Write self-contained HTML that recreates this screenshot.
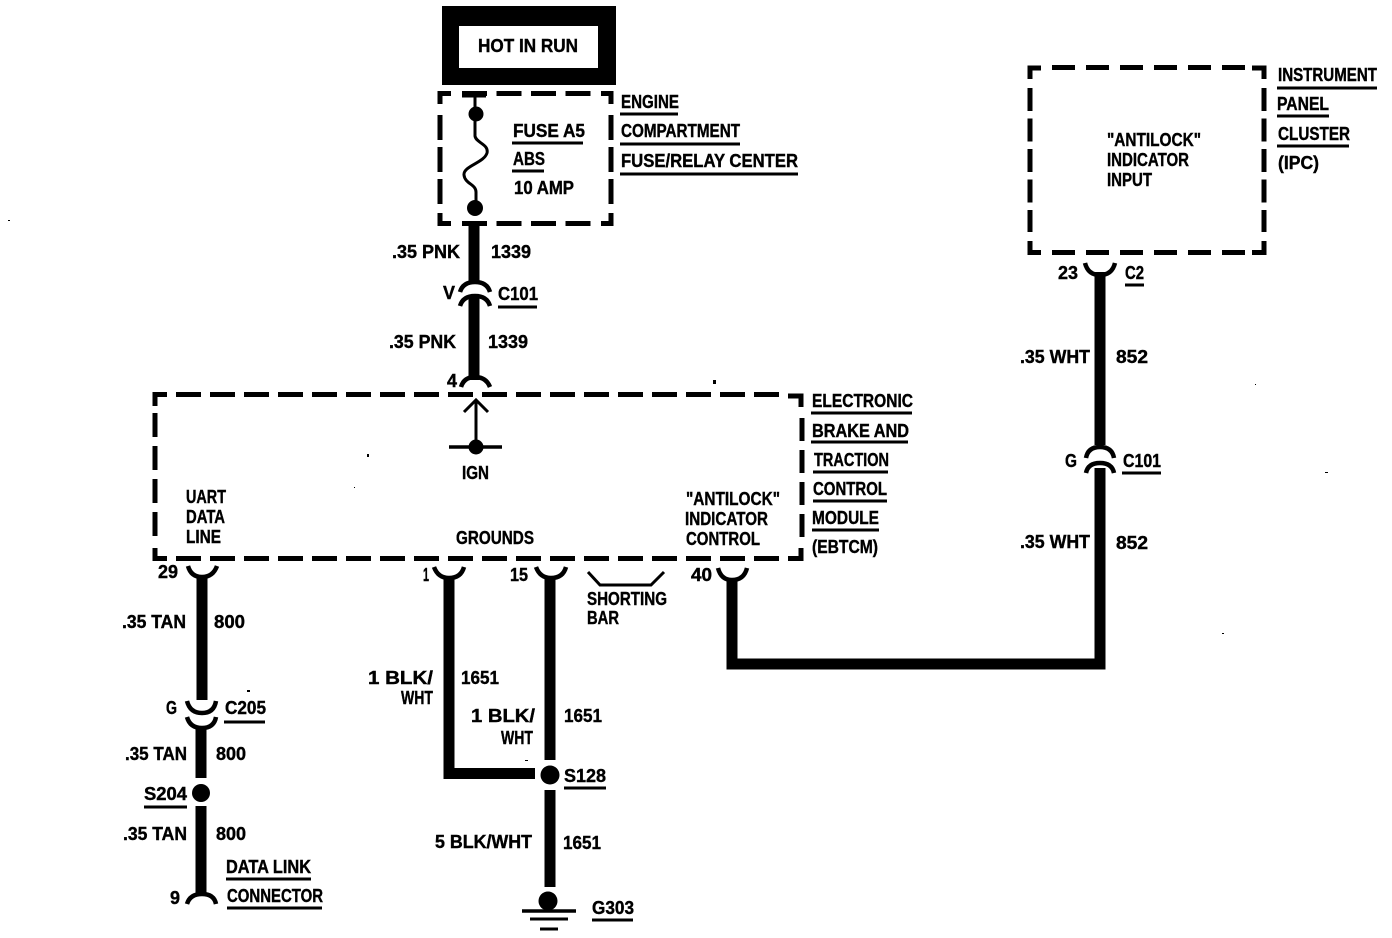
<!DOCTYPE html>
<html><head><meta charset="utf-8"><style>
html,body{margin:0;padding:0;background:#fff}
svg{display:block}
text{font-family:"Liberation Sans",sans-serif;font-weight:bold;font-size:18px;fill:#000;stroke:#000;stroke-width:.4px}
.d{fill:none;stroke:#000;stroke-width:5}
.u{fill:none;stroke:#000;stroke-width:3}
.a{fill:none;stroke:#000;stroke-width:4.5}
.w{fill:none;stroke:#000;stroke-width:11}
</style></head><body>
<svg width="1392" height="938" viewBox="0 0 1392 938" xmlns="http://www.w3.org/2000/svg">
<rect width="1392" height="938" fill="#fff"/>
<!-- HOT IN RUN -->
<rect x="442" y="6" width="174" height="79" fill="#000"/>
<rect x="459" y="26" width="139" height="42" fill="#fff"/>
<text x="478" y="52" textLength="100" lengthAdjust="spacingAndGlyphs">HOT IN RUN</text>
<!-- Fuse box -->
<path class="d" d="M440 104V93.500H451M601 93.500H611V104M440 213V223.500H451M601 223.500H611V213"/>
<path class="d" d="M462 93.500H592" stroke-dasharray="25 9.500"/>
<path class="d" d="M462 223.500H592" stroke-dasharray="25 9.500"/>
<path class="d" d="M440 115V204M611 115V204" stroke-dasharray="25 7"/>
<path class="u" d="M475 94V136C476 143 489 144 487 153C484 163 463 166 464 175C465 184 476 184 476 192V208"/>
<circle cx="476" cy="114" r="7.500"/><circle cx="475" cy="208" r="8"/>
<path d="M462 95H486" stroke="#000" stroke-width="5"/>
<text x="621" y="108" textLength="58" lengthAdjust="spacingAndGlyphs">ENGINE</text><path class="u" d="M620 114H678"/>
<text x="621" y="137" textLength="119" lengthAdjust="spacingAndGlyphs">COMPARTMENT</text><path class="u" d="M620 144H740"/>
<text x="621" y="167" textLength="177" lengthAdjust="spacingAndGlyphs">FUSE/RELAY CENTER</text><path class="u" d="M620 174H798"/>
<text x="513" y="137" textLength="72" lengthAdjust="spacingAndGlyphs">FUSE A5</text><path class="u" d="M512 143H583"/>
<text x="513" y="165" textLength="32" lengthAdjust="spacingAndGlyphs">ABS</text><path class="u" d="M512 171H544"/>
<text x="514" y="194" textLength="60" lengthAdjust="spacingAndGlyphs">10 AMP</text>
<!-- Pink wire -->
<path class="w" d="M474 222V284"/>
<path class="a" d="M460 292Q463 282 475 282Q487 282 490 292"/>
<path class="a" d="M460 306Q463 296 475 296Q487 296 490 306"/>
<path class="w" d="M474 296V380"/>
<path class="a" d="M461 387Q464 377 475 377Q486 377 490 387"/>
<text x="392" y="258" textLength="68" lengthAdjust="spacingAndGlyphs">.35 PNK</text>
<text x="491" y="258" textLength="40" lengthAdjust="spacingAndGlyphs">1339</text>
<text x="443" y="299" textLength="12" lengthAdjust="spacingAndGlyphs">V</text>
<text x="498" y="300" textLength="40" lengthAdjust="spacingAndGlyphs">C101</text><path class="u" d="M498 307H537"/>
<text x="389" y="348" textLength="67" lengthAdjust="spacingAndGlyphs">.35 PNK</text>
<text x="488" y="348" textLength="40" lengthAdjust="spacingAndGlyphs">1339</text>
<text x="447" y="387" textLength="10" lengthAdjust="spacingAndGlyphs">4</text>
<!-- EBTCM box -->
<path class="d" d="M155 406V394.500H167M788 396H801V407M155 548V558.500H167M788 558.500H801V548"/>
<path class="d" d="M176 394.500H780" stroke-dasharray="25 9"/>
<path class="d" d="M176 558.500H780" stroke-dasharray="25 9"/>
<path class="d" d="M155 413V537" stroke-dasharray="24 9"/>
<path class="d" d="M802 418V537" stroke-dasharray="23 9"/>
<path class="u" d="M476 400V446M464 412L476 400L488 412" stroke-width="3.500"/>
<path d="M449 447H502" stroke="#000" stroke-width="3.500"/>
<circle cx="476" cy="447" r="7.500"/>
<text x="462" y="479" textLength="27" lengthAdjust="spacingAndGlyphs">IGN</text>
<text x="186" y="503" textLength="40" lengthAdjust="spacingAndGlyphs">UART</text>
<text x="186" y="523" textLength="39" lengthAdjust="spacingAndGlyphs">DATA</text>
<text x="186" y="543" textLength="35" lengthAdjust="spacingAndGlyphs">LINE</text>
<text x="456" y="544" textLength="78" lengthAdjust="spacingAndGlyphs">GROUNDS</text>
<text x="686" y="505" textLength="94" lengthAdjust="spacingAndGlyphs">"ANTILOCK"</text>
<text x="685" y="525" textLength="83" lengthAdjust="spacingAndGlyphs">INDICATOR</text>
<text x="686" y="545" textLength="74" lengthAdjust="spacingAndGlyphs">CONTROL</text>
<text x="812" y="407" textLength="101" lengthAdjust="spacingAndGlyphs">ELECTRONIC</text><path class="u" d="M811 413H912"/>
<text x="812" y="437" textLength="97" lengthAdjust="spacingAndGlyphs">BRAKE AND</text><path class="u" d="M811 442H908"/>
<text x="814" y="466" textLength="75" lengthAdjust="spacingAndGlyphs">TRACTION</text><path class="u" d="M813 472H888"/>
<text x="813" y="495" textLength="74" lengthAdjust="spacingAndGlyphs">CONTROL</text><path class="u" d="M813 501H887"/>
<text x="812" y="524" textLength="67" lengthAdjust="spacingAndGlyphs">MODULE</text><path class="u" d="M812 530H879"/>
<text x="812" y="553" textLength="66" lengthAdjust="spacingAndGlyphs">(EBTCM)</text>
<!-- UART wire -->
<path class="a" d="M188 566Q191 577 202 577Q213 577 217 566"/>
<path class="w" d="M202 577V700" stroke-width="10"/>
<path class="a" d="M187 701Q190 713 202 713Q214 713 216 701"/>
<path class="a" d="M187 717Q190 728 202 728Q214 728 216 717"/>
<path class="w" d="M201 728V778" stroke-width="10"/>
<circle cx="201" cy="793" r="9"/>
<path class="w" d="M201 806V893" stroke-width="10"/>
<path class="a" d="M187 904Q190 894 202 894Q214 894 216 904"/>
<text x="158" y="578" textLength="20" lengthAdjust="spacingAndGlyphs">29</text>
<text x="122" y="628" textLength="64" lengthAdjust="spacingAndGlyphs">.35 TAN</text>
<text x="214" y="628" textLength="31" lengthAdjust="spacingAndGlyphs">800</text>
<text x="166" y="714" textLength="11" lengthAdjust="spacingAndGlyphs">G</text>
<text x="225" y="714" textLength="41" lengthAdjust="spacingAndGlyphs">C205</text><path class="u" d="M224 722H265"/>
<text x="125" y="760" textLength="62" lengthAdjust="spacingAndGlyphs">.35 TAN</text>
<text x="216" y="760" textLength="30" lengthAdjust="spacingAndGlyphs">800</text>
<text x="144" y="800" textLength="43" lengthAdjust="spacingAndGlyphs">S204</text><path class="u" d="M144 807H187"/>
<text x="123" y="840" textLength="64" lengthAdjust="spacingAndGlyphs">.35 TAN</text>
<text x="216" y="840" textLength="30" lengthAdjust="spacingAndGlyphs">800</text>
<text x="226" y="873" textLength="85" lengthAdjust="spacingAndGlyphs">DATA LINK</text><path class="u" d="M226 879H311"/>
<text x="227" y="902" textLength="96" lengthAdjust="spacingAndGlyphs">CONNECTOR</text><path class="u" d="M227 908H322"/>
<text x="170" y="904" textLength="10" lengthAdjust="spacingAndGlyphs">9</text>
<!-- Ground wires -->
<path class="a" d="M434 567Q438 578 449 578Q461 578 464 567"/>
<path class="a" d="M536 567Q540 578 551 578Q563 578 566 567"/>
<path class="w" d="M449 578V773.500H535"/>
<path class="w" d="M550 578V760"/>
<circle cx="550" cy="775" r="9.500"/>
<path class="w" d="M550 790V887"/>
<circle cx="548" cy="901" r="9.500"/>
<path d="M522 911H576" stroke="#000" stroke-width="3.500"/>
<path d="M530 919H568" stroke="#000" stroke-width="3"/>
<path d="M540 929H558" stroke="#000" stroke-width="3"/>
<path class="u" d="M588 572L600 585H651L664 572"/>
<text x="423" y="581" textLength="6" lengthAdjust="spacingAndGlyphs">1</text>
<text x="510" y="581" textLength="18" lengthAdjust="spacingAndGlyphs">15</text>
<text x="691" y="581" textLength="21" lengthAdjust="spacingAndGlyphs">40</text>
<text x="587" y="605" textLength="80" lengthAdjust="spacingAndGlyphs">SHORTING</text>
<text x="587" y="624" textLength="32" lengthAdjust="spacingAndGlyphs">BAR</text>
<text x="368" y="684" textLength="65" lengthAdjust="spacingAndGlyphs">1 BLK/</text>
<text x="401" y="704" textLength="32" lengthAdjust="spacingAndGlyphs">WHT</text>
<text x="461" y="684" textLength="38" lengthAdjust="spacingAndGlyphs">1651</text>
<text x="471" y="722" textLength="64" lengthAdjust="spacingAndGlyphs">1 BLK/</text>
<text x="501" y="744" textLength="32" lengthAdjust="spacingAndGlyphs">WHT</text>
<text x="564" y="722" textLength="38" lengthAdjust="spacingAndGlyphs">1651</text>
<text x="564" y="782" textLength="42" lengthAdjust="spacingAndGlyphs">S128</text><path class="u" d="M564 788H606"/>
<text x="435" y="848" textLength="97" lengthAdjust="spacingAndGlyphs">5 BLK/WHT</text>
<text x="563" y="849" textLength="38" lengthAdjust="spacingAndGlyphs">1651</text>
<text x="592" y="914" textLength="42" lengthAdjust="spacingAndGlyphs">G303</text><path class="u" d="M592 920H633"/>
<!-- Indicator wire -->
<path class="a" d="M718 568Q721 580 732 580Q744 580 747 568"/>
<path class="w" d="M732 580V664H1100V468"/>
<path class="w" d="M1100 272V445"/>
<path class="a" d="M1086 458Q1088 447 1100 447Q1112 447 1114 458"/>
<path class="a" d="M1086 473Q1088 463 1100 463Q1112 463 1114 473"/>
<path class="a" d="M1085 263Q1088 275 1100 275Q1112 275 1115 263"/>
<text x="1058" y="279" textLength="20" lengthAdjust="spacingAndGlyphs">23</text>
<text x="1125" y="279" textLength="19" lengthAdjust="spacingAndGlyphs">C2</text><path class="u" d="M1125 285H1144"/>
<text x="1020" y="363" textLength="70" lengthAdjust="spacingAndGlyphs">.35 WHT</text>
<text x="1116" y="363" textLength="32" lengthAdjust="spacingAndGlyphs">852</text>
<text x="1065" y="467" textLength="12" lengthAdjust="spacingAndGlyphs">G</text>
<text x="1123" y="467" textLength="38" lengthAdjust="spacingAndGlyphs">C101</text><path class="u" d="M1122 473H1161"/>
<text x="1020" y="548" textLength="70" lengthAdjust="spacingAndGlyphs">.35 WHT</text>
<text x="1116" y="549" textLength="32" lengthAdjust="spacingAndGlyphs">852</text>
<!-- IPC box -->
<path class="d" d="M1030 79V68H1041M1252 68H1264V79M1030 241V252.500H1041M1252 252.500H1264V241"/>
<path class="d" d="M1052 67.500H1245" stroke-dasharray="23 11"/>
<path class="d" d="M1052 252.500H1245" stroke-dasharray="23 11"/>
<path class="d" d="M1030 88V232" stroke-dasharray="23 7.500"/>
<path class="d" d="M1264 88V232" stroke-dasharray="23 7.500"/>
<text x="1107" y="146" textLength="94" lengthAdjust="spacingAndGlyphs">"ANTILOCK"</text>
<text x="1107" y="166" textLength="82" lengthAdjust="spacingAndGlyphs">INDICATOR</text>
<text x="1107" y="186" textLength="45" lengthAdjust="spacingAndGlyphs">INPUT</text>
<text x="1278" y="81" textLength="99" lengthAdjust="spacingAndGlyphs">INSTRUMENT</text><path class="u" d="M1277 88H1377"/>
<text x="1277" y="110" textLength="52" lengthAdjust="spacingAndGlyphs">PANEL</text><path class="u" d="M1277 116H1329"/>
<text x="1278" y="140" textLength="72" lengthAdjust="spacingAndGlyphs">CLUSTER</text><path class="u" d="M1277 146H1349"/>
<text x="1278" y="169" textLength="41" lengthAdjust="spacingAndGlyphs">(IPC)</text>
<!-- specks -->
<g fill="#000">
<rect x="713" y="380" width="3" height="4"/><rect x="367" y="454" width="2" height="3"/><rect x="354" y="487" width="1" height="1"/>
<rect x="247" y="690" width="3" height="2"/><rect x="525" y="760" width="3" height="1"/><rect x="1325" y="472" width="3" height="1"/>
<rect x="1222" y="633" width="2" height="1"/><rect x="8" y="220" width="2" height="1"/><rect x="1255" y="384" width="1" height="1"/>
</g>
</svg>
</body></html>
